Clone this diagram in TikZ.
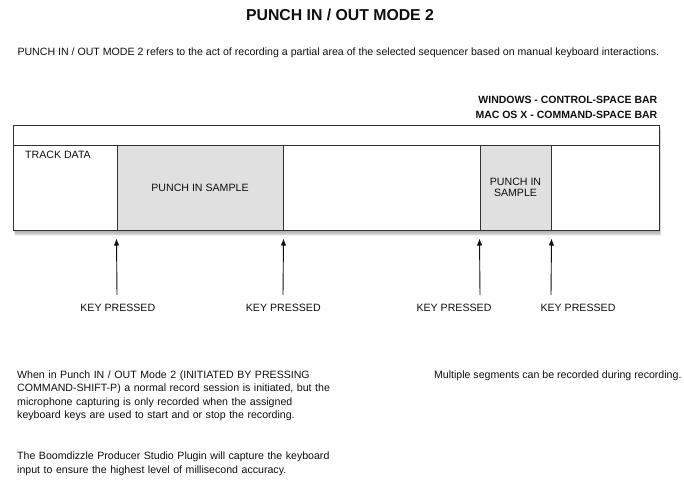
\documentclass[tikz,border=0pt]{standalone}
\usepackage{fontspec}
\setmainfont{Liberation Sans}
\usetikzlibrary{arrows.meta}
\definecolor{boxLine}{RGB}{50,50,50}
\definecolor{sampleGray}{RGB}{224,224,224}
\definecolor{inkBlack}{RGB}{15,15,15}

\begin{document}
\begin{tikzpicture}[x=1pt,y=-1pt]
\tikzstyle{every node}=[text=inkBlack, inner sep=0pt]
\tikzstyle{body}=[font=\fontsize{10.6}{13.5}\selectfont]
\tikzstyle{cell}=[draw=boxLine, line width=1pt, minimum height=85pt, body]
\tikzstyle{sample}=[cell, fill=sampleGray, align=center, font=\fontsize{10.6}{11.6}\selectfont]
\tikzstyle{keyarrow}=[draw=inkBlack, line width=0.9pt, -{Latex[length=7pt,width=5.5pt]}]

  \useasboundingbox (0,0) rectangle (684,483);

  % headings
  \node[font=\fontsize{15.8}{19}\selectfont\bfseries, anchor=base] (title) at (340,20.7) {PUNCH IN / OUT MODE 2};
  \node[body, anchor=base west] (intro) at (17.3,55.8) {PUNCH IN / OUT MODE 2 refers to the act of recording a partial area of the selected sequencer based on manual keyboard interactions.};
  \node[body, font=\fontsize{10.5}{13}\selectfont\bfseries, anchor=base east] (windows) at (657.5,103.8) {WINDOWS - CONTROL-SPACE BAR};
  \node[body, font=\fontsize{10.5}{13}\selectfont\bfseries, anchor=base east] (macos) at (657.5,118.1) {MAC OS X - COMMAND-SPACE BAR};

  % soft shadow under the track
  \foreach \s in {1,...,7}
    \fill[black, opacity=0.06] (13+0.3*\s,125+0.6*\s) rectangle (659+0.3*\s,230+0.9*\s);

  % track
  \node[draw=boxLine, fill=white, line width=1pt, minimum width=646pt, minimum height=20pt] (header) at (336,135) {};
  \node[cell, fill=white, minimum width=104pt] (trackcell) at (65,187.5) {};
  \node[sample, minimum width=166pt] (sample1) at (200,187.5) {PUNCH IN SAMPLE};
  \node[cell, fill=white, minimum width=197pt] (gapcell) at (381.5,187.5) {};
  \node[sample, minimum width=71pt] (sample2) at (515.5,187.5) {PUNCH IN\\SAMPLE};
  \node[cell, fill=white, minimum width=108pt] (tailcell) at (605,187.5) {};
  \node[body, anchor=base west] (trackdata) at (25,158.8) {TRACK DATA};

  % key presses
  \node[body, anchor=base] (key1) at (117.8,311.5) {KEY PRESSED};
  \node[body, anchor=base] (key2) at (283.3,311.5) {KEY PRESSED};
  \node[body, anchor=base] (key3) at (454,311.5) {KEY PRESSED};
  \node[body, anchor=base] (key4) at (578,311.5) {KEY PRESSED};

  \coordinate (tail1) at (117,295);
  \coordinate (tail2) at (283,295);
  \coordinate (tail3) at (480,295);
  \coordinate (tail4) at (551,295);

  \draw[keyarrow] (tail1) -- ([yshift=-8pt]sample1.south west);
  \draw[keyarrow] (tail2) -- ([yshift=-8pt]sample1.south east);
  \draw[keyarrow] (tail3) -- ([yshift=-8pt]sample2.south west);
  \draw[keyarrow] (tail4) -- ([yshift=-8pt]sample2.south east);

  % notes
  \node[body, text width=340pt, align=left, anchor=base west] (modetext) at (17,378) {When in Punch IN / OUT Mode 2 (INITIATED BY PRESSING\\
COMMAND-SHIFT-P) a normal record session is initiated, but the\\
microphone capturing is only recorded when the assigned\\
keyboard keys are used to start and or stop the recording.};
  \node[body, anchor=base east] (segments) at (681.7,378) {Multiple segments can be recorded during recording.};
  \node[body, text width=340pt, align=left, anchor=base west] (plugintext) at (17,459.8) {The Boomdizzle Producer Studio Plugin will capture the keyboard\\
input to ensure the highest level of millisecond accuracy.};

\end{tikzpicture}
\end{document}
